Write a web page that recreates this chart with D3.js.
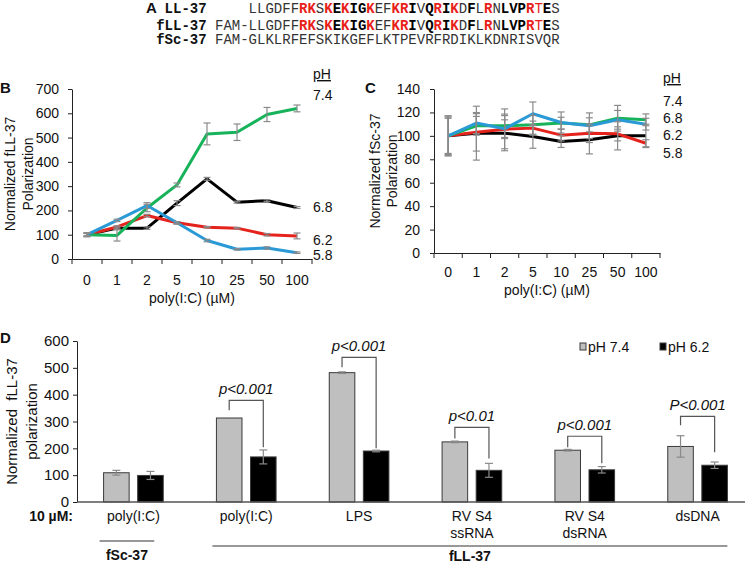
<!DOCTYPE html>
<html lang="en">
<head>
<meta charset="utf-8">
<script src="https://d3js.org/d3.v7.min.js"></script>
<style>
  body { margin: 0; background: #fff; }
  text { font-family: "Liberation Sans", Arial, sans-serif; font-size: 14px; fill: #111; }
  .mono text, text.mono { font-family: "Liberation Mono", "Courier New", monospace; }
  .axis path, .axis line { stroke: #222; }
  .axis text { font-size: 14px; fill: #111; }
</style>
</head>
<body>
<script>

var width = 745,
    height = 564;

// ---- panel A : peptide sequences
var seqNames = ["LL-37", "fLL-37", "fSc-37"];
var seqPrefix = ["    ", "FAM-", "FAM-"];
var seqBody = ["LLGDFFRKSKEKIGKEFKRIVQRIKDFLRNLVPRTES",
               "LLGDFFRKSKEKIGKEFKRIVQRIKDFLRNLVPRTES",
               "GLKLRFEFSKIKGEFLKTPEVRFRDIKLKDNRISVQR"];
// n = plain, b = bold, r = bold red, t = red
var seqStyle = ["nnnnnnrrnrbrbbrnnrrbnbrbrnbnrnbbbrtbn",
                "nnnnnnrrnrbrbbrnnrrbnbrbrnbnrnbbbrtbn",
                "nnnnnnnnnnnnnnnnnnnnnnnnnnnnnnnnnnnnn"];

// ---- panels B and C : polarization vs poly(I:C)
var conc = ["0", "1", "2", "5", "10", "25", "50", "100"];
var phLevels = ["7.4", "6.8", "6.2", "5.8"];

var fLL74 = [100, 97, 210, 305, 515, 522, 595, 620];
var fLL74Err = [8, 23, 15, 8, 45, 34, 29, 14];
var fLL68 = [100, 127, 127, 230, 330, 234, 240, 212];
var fLL68Err = [5, 5, 5, 10, 6, 4, 4, 4];
var fLL62 = [100, 132, 179, 149, 131, 127, 100, 95];
var fLL62Err = [5, 5, 5, 5, 3, 3, 5, 12];
var fLL58 = [100, 159, 220, 149, 76, 40, 45, 26];
var fLL58Err = [8, 5, 12, 5, 5, 3, 5, 3];

var fSc74 = [100, 108.6, 108.6, 109.4, 110.9, 109.4, 115, 113.7];
var fSc74Err = [16, 8, 10, 8, 5, 6, 11, 5];
var fSc68 = [100, 102.3, 102.3, 99.4, 95.1, 96.6, 100, 100];
var fSc68Err = [17, 23, 15, 10, 5, 12, 12, 10];
var fSc62 = [100, 103, 105.7, 106.6, 100.6, 102.3, 101.7, 93.7];
var fSc62Err = [15, 16, 8, 6, 5, 8, 6, 3];
var fSc58 = [100, 110.9, 106, 118.9, 111.4, 108.6, 113.7, 110];
var fSc58Err = [17, 9, 17, 10, 9, 11, 8, 5];

// ---- panel D : bars at 10 uM
var dGroups = [["poly(I:C)"], ["poly(I:C)"], ["LPS"], ["RV S4", "ssRNA"], ["RV S4", "dsRNA"], ["dsDNA"]];
var dPh = ["pH 7.4", "pH 6.2"];
var d74 = [109, 313, 482, 224, 193, 207];
var d74Err = [9, 0, 3, 3, 3, 40];
var d62 = [99, 168, 190, 118, 120, 137];
var d62Err = [15, 26, 3, 26, 12, 12];
var pText = [null, "p<0.001", "p<0.001", "p<0.01", "p<0.001", "P<0.001"];
var pTop = [null, 379, 539, 278, 245, 319];
var pLeftEnd = [null, 342, 502, 237, 204, 286];
var pRightEnd = [null, 204, 200, 162, 144, 185];

var phColor = {"7.4": "#17b35a", "6.8": "#000000", "6.2": "#e5231d", "5.8": "#2a9ad6"};
var errColor = "#8a8a8a";

var svg = d3.select("body").append("svg")
    .attr("width", width)
    .attr("height", height);

// ================= A
var gA = svg.append("g").attr("class", "mono");
var charW = 8.4;
var seqX = 215;

seqNames.forEach(function(name, r) {
  var yy = [13, 30, 44][r];
  gA.append("text")
      .attr("x", seqX - charW)
      .attr("y", yy)
      .attr("text-anchor", "end")
      .style("font-weight", "bold")
      .text(name);
  var t = gA.append("text").attr("x", seqX).attr("y", yy).attr("xml:space", "preserve");
  t.append("tspan").style("fill", "#333").text(seqPrefix[r]);
  for (var i = 0; i < seqBody[r].length; i++) {
    var s = seqStyle[r][i];
    t.append("tspan")
        .style("font-weight", (s == "b" || s == "r") ? "bold" : "normal")
        .style("fill", (s == "r" || s == "t") ? "#e8201a" : (s == "b" ? "#000" : "#333"))
        .text(seqBody[r][i]);
  }
});
svg.append("text").attr("x", 146).attr("y", 13)
    .style("font-weight", "bold").style("font-size", "15px").text("A");

// ================= B and C
function linePanel(cfg) {
  var x = d3.scaleBand().domain(conc).range([cfg.left, cfg.right]);
  var y = d3.scaleLinear().domain([0, cfg.max]).range([cfg.bottom, cfg.top]);
  var g = svg.append("g");

  g.append("g")
      .attr("class", "axis")
      .attr("transform", "translate(" + cfg.left + ",0)")
      .call(d3.axisLeft(y).ticks(7).tickSize(4).tickSizeOuter(0).tickPadding(cfg.ypad));

  g.append("g")
      .attr("class", "axis")
      .attr("transform", "translate(0," + cfg.bottom + ")")
      .call(d3.axisBottom(x).tickSize(0).tickSizeOuter(0).tickPadding(cfg.xpad));

  // ticks sit on the band boundaries
  g.selectAll(".btick")
      .data(d3.range(conc.length + 1))
    .enter().append("line")
      .attr("x1", function(i) { return x.range()[0] + i * x.step(); })
      .attr("x2", function(i) { return x.range()[0] + i * x.step(); })
      .attr("y1", cfg.bottom)
      .attr("y2", cfg.bottom + 5)
      .attr("stroke", "#222");

  var cx = function(i) { return x(conc[i]) + x.bandwidth() / 2; };
  var line = d3.line()
      .x(function(d, i) { return cx(i); })
      .y(function(d) { return y(d); });

  cfg.series.forEach(function(s) {
    g.append("path")
        .datum(s.v)
        .attr("d", line)
        .attr("fill", "none")
        .attr("stroke", phColor[s.ph])
        .attr("stroke-width", 3)
        .attr("stroke-linejoin", "round");
  });
  cfg.series.forEach(function(s) {
    var eg = g.append("g").attr("stroke", errColor).attr("stroke-width", 1.2);
    s.v.forEach(function(v, i) {
      if (!s.e[i]) return;
      var x0 = cx(i), yt = y(v + s.e[i]), yb = y(v - s.e[i]);
      eg.append("line").attr("x1", x0).attr("x2", x0).attr("y1", yt).attr("y2", yb);
      eg.append("line").attr("x1", x0 - 3.5).attr("x2", x0 + 3.5).attr("y1", yt).attr("y2", yt);
      eg.append("line").attr("x1", x0 - 3.5).attr("x2", x0 + 3.5).attr("y1", yb).attr("y2", yb);
    });
  });

  // axis titles
  var mid = (cfg.top + cfg.bottom) / 2;
  cfg.title.forEach(function(t, k) {
    g.append("text")
        .attr("transform", "translate(" + cfg.titleX[k] + "," + mid + ")rotate(-90)")
        .attr("text-anchor", "middle")
        .text(t);
  });
  g.append("text")
      .attr("x", (cfg.left + cfg.right) / 2)
      .attr("y", cfg.xTitleY)
      .attr("text-anchor", "middle")
      .text("poly(I:C) (\u00b5M)");

  // pH legend
  g.append("text").attr("x", cfg.phX).attr("y", cfg.phY[0])
      .style("text-decoration", "underline").text("pH");
  cfg.phOrder.forEach(function(p, k) {
    g.append("text").attr("x", cfg.phX).attr("y", cfg.phY[k + 1]).text(p);
  });

  g.append("text").attr("x", cfg.letterX).attr("y", 93)
      .style("font-weight", "bold").style("font-size", "15px").text(cfg.letter);
}

linePanel({
  letter: "B", letterX: 0,
  left: 72, right: 312, top: 89, bottom: 259, max: 700,
  ypad: 9, xpad: 16,
  title: ["Normalized fLL-37", "Polarization"], titleX: [15, 33],
  xTitleY: 303,
  phX: 313, phY: [79, 100, 212, 245, 260], phOrder: phLevels,
  series: [
    {ph: "6.8", v: fLL68, e: fLL68Err},
    {ph: "6.2", v: fLL62, e: fLL62Err},
    {ph: "7.4", v: fLL74, e: fLL74Err},
    {ph: "5.8", v: fLL58, e: fLL58Err}
  ]
});

linePanel({
  letter: "C", letterX: 365,
  left: 434, right: 660, top: 89, bottom: 253, max: 140,
  ypad: 10, xpad: 14,
  title: ["Normalized fSc-37", "Polarization"], titleX: [380, 397],
  xTitleY: 295,
  phX: 663, phY: [83, 106, 123, 140, 158], phOrder: phLevels,
  series: [
    {ph: "6.8", v: fSc68, e: fSc68Err},
    {ph: "6.2", v: fSc62, e: fSc62Err},
    {ph: "7.4", v: fSc74, e: fSc74Err},
    {ph: "5.8", v: fSc58, e: fSc58Err}
  ]
});

// ================= D
var gD = svg.append("g");
var xD = d3.scaleBand().domain(d3.range(dGroups.length)).range([77, 754]);
var xIn = d3.scaleBand().domain(dPh).range([0, xD.bandwidth()]).paddingInner(0.25).paddingOuter(0.78);
var yD = d3.scaleLinear().domain([0, 600]).range([502, 341]);

gD.append("g")
    .attr("class", "axis")
    .attr("transform", "translate(77,0)")
    .call(d3.axisLeft(yD).ticks(6).tickSize(4).tickSizeOuter(0).tickPadding(4))
  .selectAll("text")
    .style("font-size", "15px");

var barData = [];
dGroups.forEach(function(grp, i) {
  barData.push({g: i, ph: dPh[0], v: d74[i], e: d74Err[i]});
  barData.push({g: i, ph: dPh[1], v: d62[i], e: d62Err[i]});
});

gD.selectAll(".bar")
    .data(barData)
  .enter().append("rect")
    .attr("class", "bar")
    .attr("x", function(d) { return xD(d.g) + xIn(d.ph); })
    .attr("width", xIn.bandwidth())
    .attr("y", function(d) { return yD(d.v); })
    .attr("height", function(d) { return yD(0) - yD(d.v); })
    .attr("fill", function(d) { return d.ph == dPh[0] ? "#bfbfbf" : "#000"; })
    .attr("stroke", "#3a3a3a")
    .attr("stroke-width", 1);

var errD = gD.append("g").attr("stroke", errColor).attr("stroke-width", 1.2);
barData.forEach(function(d) {
  if (!d.e) return;
  var x0 = xD(d.g) + xIn(d.ph) + xIn.bandwidth() / 2, yt = yD(d.v + d.e), yb = yD(d.v - d.e);
  errD.append("line").attr("x1", x0).attr("x2", x0).attr("y1", yt).attr("y2", yb);
  errD.append("line").attr("x1", x0 - 4).attr("x2", x0 + 4).attr("y1", yt).attr("y2", yt);
  errD.append("line").attr("x1", x0 - 4).attr("x2", x0 + 4).attr("y1", yb).attr("y2", yb);
});

// baseline
gD.append("line")
    .attr("x1", 77).attr("x2", width)
    .attr("y1", yD(0)).attr("y2", yD(0))
    .attr("stroke", "#555").attr("stroke-width", 1.5);

// significance brackets
pText.forEach(function(t, i) {
  if (!t) return;
  var xl = xD(i) + xIn(dPh[0]) + xIn.bandwidth() / 2;
  var xr = xD(i) + xIn(dPh[1]) + xIn.bandwidth() / 2;
  gD.append("path")
      .attr("d", "M" + xl + "," + yD(pLeftEnd[i]) + "V" + yD(pTop[i]) + "H" + xr + "V" + yD(pRightEnd[i]))
      .attr("fill", "none").attr("stroke", "#555").attr("stroke-width", 1.2);
  gD.append("text")
      .attr("x", (xl + xr) / 2)
      .attr("y", yD(pTop[i]) - 6)
      .attr("text-anchor", "middle")
      .style("font-style", "italic")
      .style("font-size", "15px")
      .text(t);
});

// category labels
dGroups.forEach(function(lines, i) {
  lines.forEach(function(l, k) {
    gD.append("text")
        .attr("x", xD(i) + xD.bandwidth() / 2)
        .attr("y", 521 + k * 17)
        .attr("text-anchor", "middle")
        .text(l);
  });
});
gD.append("text").attr("x", 73).attr("y", 521).attr("text-anchor", "end")
    .style("font-weight", "bold").text("10 \u00b5M:");

// peptide groups under the labels
var pepGroups = [
  {name: "fSc-37", x1: xD(0) + xIn(dPh[0]) - 4, x2: xD(0) + xIn(dPh[1]) + xIn.bandwidth() - 9, y: 541, ty: 560},
  {name: "fLL-37", x1: xD(1) + xIn(dPh[0]) - 4, x2: xD(5) + xIn(dPh[1]) + xIn.bandwidth(), y: 546, ty: 561}
];
pepGroups.forEach(function(p) {
  gD.append("line").attr("x1", p.x1).attr("x2", p.x2).attr("y1", p.y).attr("y2", p.y)
      .attr("stroke", "#333").attr("stroke-width", 1.2);
  gD.append("text").attr("x", (p.x1 + p.x2) / 2).attr("y", p.ty).attr("text-anchor", "middle")
      .style("font-weight", "bold").text(p.name);
});

// y title
[["Normalized  fLL-37", 17], ["polarization", 37]].forEach(function(t) {
  gD.append("text")
      .attr("transform", "translate(" + t[1] + "," + (yD(0) + yD(600)) / 2 + ")rotate(-90)")
      .attr("text-anchor", "middle")
      .attr("xml:space", "preserve")
      .style("font-size", "15px")
      .text(t[0]);
});

// legend
var legX = [580, 660];
dPh.forEach(function(p, k) {
  gD.append("rect").attr("x", legX[k]).attr("y", 343).attr("width", 6).attr("height", 7)
      .attr("fill", k == 0 ? "#bfbfbf" : "#000").attr("stroke", "#3a3a3a");
  gD.append("text").attr("x", legX[k] + 8).attr("y", 352).text(p);
});

gD.append("text").attr("x", 0).attr("y", 343)
    .style("font-weight", "bold").style("font-size", "15px").text("D");

</script>
</body>
</html>
